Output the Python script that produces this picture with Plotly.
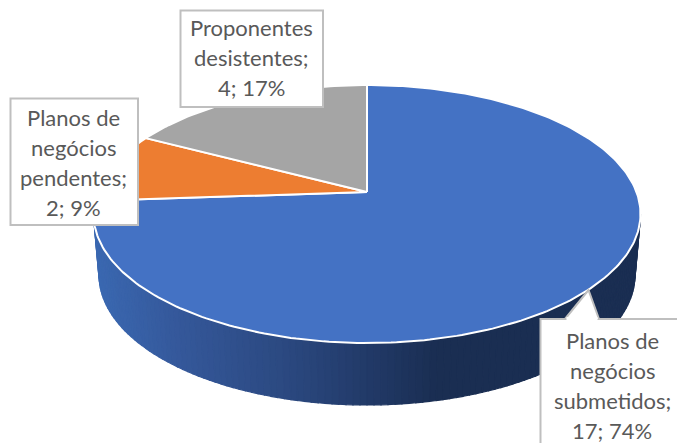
import numpy as np
import plotly.graph_objects as go

categories = ["Planos de negócios submetidos", "Planos de negócios pendentes", "Proponentes desistentes"]
values = [17, 2, 4]
percents = ["74%", "9%", "17%"]
slice_colors = ["#4472C4", "#ED7D31", "#A5A5A5"]

W, H = 677, 443
APEX = (367.0, 192.0)
CX, CY, RX, RY = 367.0, 214.0, 273.5, 129.0
CY2, RX2, RY2 = 275.0, 268.0, 130.0
TILT = 0.47
FONT = "Lato"


def rim(theta):
    """Point of the perspective rim for a clockwise angle from 12 o'clock."""
    dx, dy = np.sin(theta), -np.cos(theta) * TILT
    ax, ay = APEX[0] - CX, APEX[1] - CY
    a = (dx / RX) ** 2 + (dy / RY) ** 2
    b = 2 * (ax * dx / RX ** 2 + ay * dy / RY ** 2)
    c = (ax / RX) ** 2 + (ay / RY) ** 2 - 1
    t = (-b + np.sqrt(b * b - 4 * a * c)) / (2 * a)
    return APEX[0] + t * dx, APEX[1] + t * dy


fig = go.Figure()

# Side wall of the pie, graded from left to right
stops_x = [93, 180, 280, 370, 440, 640]
stops_c = [(0x3B, 0x69, 0xB2), (0x35, 0x58, 0x9A), (0x2C, 0x4A, 0x82),
           (0x22, 0x3A, 0x68), (0x1A, 0x2E, 0x52), (0x1A, 0x2E, 0x52)]
phis = np.radians(np.linspace(-90, 90, 121))
for p0, p1 in zip(phis[:-1], phis[1:]):
    xs = [CX + RX * np.sin(p0), CX + RX * np.sin(p1), CX + RX2 * np.sin(p1), CX + RX2 * np.sin(p0)]
    ys = [CY + RY * np.cos(p0), CY + RY * np.cos(p1), CY2 + RY2 * np.cos(p1), CY2 + RY2 * np.cos(p0)]
    mx = (xs[0] + xs[1]) / 2
    col = [np.interp(mx, stops_x, [c[i] for c in stops_c]) for i in range(3)]
    rgb = "rgb(%d,%d,%d)" % tuple(col)
    fig.add_trace(go.Scatter(x=xs + xs[:1], y=ys + ys[:1], mode="lines", fill="toself",
                             fillcolor=rgb, line=dict(color=rgb, width=1.2),
                             hoverinfo="skip", showlegend=False))

# Top face, one polygon per slice, angles from the values
total = sum(values)
edges = np.cumsum([0] + values) / total * 2 * np.pi
for i, name in enumerate(categories):
    n = max(3, int((edges[i + 1] - edges[i]) / np.radians(1)))
    pts = [rim(t) for t in np.linspace(edges[i], edges[i + 1], n)]
    xs = [APEX[0]] + [p[0] for p in pts] + [APEX[0]]
    ys = [APEX[1]] + [p[1] for p in pts] + [APEX[1]]
    fig.add_trace(go.Scatter(x=xs, y=ys, mode="lines", fill="toself", name=name,
                             fillcolor=slice_colors[i], line=dict(color="white", width=2),
                             hoverinfo="skip", showlegend=False))

# Data label boxes
BORDER = "#BFBFBF"
shapes = [
    dict(type="rect", x0=180.5, x1=323, y0=10.5, y1=107, fillcolor="white", line=dict(color=BORDER, width=2)),
    dict(type="rect", x0=10.5, x1=138, y0=98.5, y1=225, fillcolor="white", line=dict(color=BORDER, width=2)),
    dict(type="rect", x0=540.5, x1=700, y0=319, y1=470, fillcolor="white", line=dict(color=BORDER, width=2)),
    dict(type="path", path="M565 319 L588.5 290 L599 319", fillcolor="white", line=dict(color=BORDER, width=2)),
    dict(type="rect", x0=566.5, x1=597.5, y0=317, y1=321, fillcolor="white", line=dict(width=0)),
]
for s in shapes:
    s.update(xref="x", yref="y", layer="above")

label_lines = [
    (612, 340, ["Planos de", "negócios", "submetidos;", f"{values[0]}; {percents[0]}"]),
    (73.5, 117.5, ["Planos de", "negócios", "pendentes;", f"{values[1]}; {percents[1]}"]),
    (251.5, 27.5, ["Proponentes", "desistentes;", f"{values[2]}; {percents[2]}"]),
]
annotations = []
for x, y0, lines in label_lines:
    for j, line in enumerate(lines):
        annotations.append(dict(x=x, y=y0 + j * 30, text=line, xref="x", yref="y", showarrow=False,
                                xanchor="center", yanchor="middle",
                                font=dict(family=FONT, size=22, color="#595959")))

fig.update_layout(
    width=W, height=H, margin=dict(l=0, r=0, t=0, b=0),
    paper_bgcolor="white", plot_bgcolor="white", showlegend=False,
    xaxis=dict(range=[0, W], visible=False, fixedrange=True),
    yaxis=dict(range=[H, 0], visible=False, fixedrange=True),
    shapes=shapes, annotations=annotations,
)
fig.write_html("out.html", config={"displayModeBar": False},
               post_script="document.body.style.margin='0';")
